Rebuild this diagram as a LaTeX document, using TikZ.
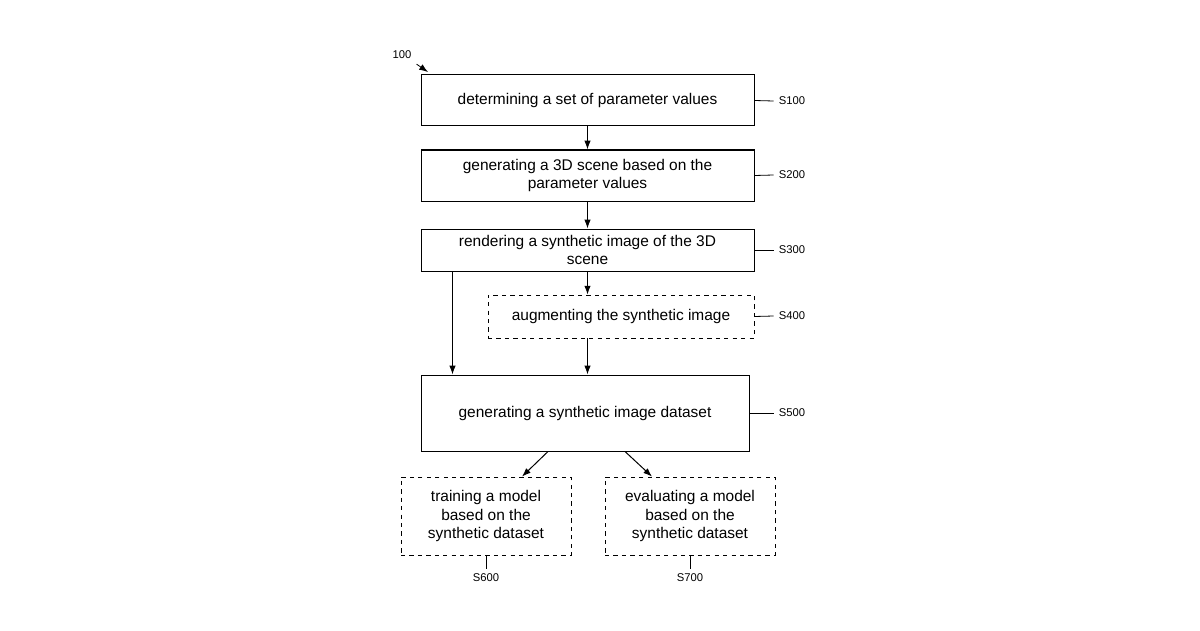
\documentclass[tikz,border=0pt]{standalone}
\usepackage{fontspec}
\setmainfont{Liberation Sans}
\usetikzlibrary{positioning,arrows.meta}
\begin{document}
\begin{tikzpicture}[x=0.025cm,y=-0.025cm,line width=0.25mm,
>={Latex[length=2.2mm,width=1.6mm]},
box/.style={draw, align=center, font=\fontsize{11}{13}\selectfont, inner sep=0pt},
optbox/.style={box, dashed, line width=0.2mm},
lbl/.style={font=\fontsize{8}{9}\selectfont}
]
\useasboundingbox (0,0) rectangle (1200,630);

 \node[box, minimum width=333*0.025cm, minimum height=51*0.025cm] (s1) at (587.5,100.5) {determining a set of parameter values};
 \node[box, minimum width=333*0.025cm, minimum height=51*0.025cm] (s2) at (587.5,175.5) {generating a 3D scene based on the\\parameter values};
 \node[box, minimum width=333*0.025cm, minimum height=42*0.025cm] (s3) at (587.5,250) {rendering a synthetic image of the 3D\\scene};
 \node[optbox, minimum width=266*0.025cm, minimum height=43*0.025cm] (s4) at (621,316.5) {augmenting the synthetic image};
 \node[box, minimum width=328*0.025cm, minimum height=76*0.025cm] (s5) at (585,413) {generating a synthetic image dataset};
 \node[optbox, minimum width=170*0.025cm, minimum height=78*0.025cm] (s6) at (486,516) {training a model\\based on the\\synthetic dataset};
 \node[optbox, minimum width=170*0.025cm, minimum height=78*0.025cm] (s7) at (690,516) {evaluating a model\\based on the\\synthetic dataset};

 % step labels
 \node[lbl] (l1) at (792,101) {S100};
 \node[lbl] (l2) at (792,175) {S200};
 \node[lbl] (l3) at (792,250) {S300};
 \node[lbl] (l4) at (792,316) {S400};
 \node[lbl] (l5) at (792,413) {S500};
 \node[lbl] (l6) at (486,578) {S600};
 \node[lbl] (l7) at (690,578) {S700};
 \node[lbl] (l0) at (402,55) {100};
 \coordinate (c0) at (428,72);

 \draw[line width=0.2mm] (s1.east) -- (l1.west);
 \draw[line width=0.2mm] (s2.east) -- (l2.west);
 \draw[line width=0.2mm] (s3.east) -- (l3.west);
 \draw[line width=0.2mm] (s4.east) -- (l4.west);
 \draw[line width=0.2mm] (s5.east) -- (l5.west);
 \draw[line width=0.2mm] (s6.south) -- (l6.north);
 \draw[line width=0.2mm] (s7.south) -- (l7.north);
 \draw[->, line width=0.2mm] (l0.south east) -- (c0);

 \draw[->] (s1) -- (s2);
 \draw[->] (s2) -- (s3);
 \draw[->] (s3.south) -- (s3.south |- s4.north);
 \draw[->] (s3.south |- s4.south) -- (s3.south |- s5.north);
 \draw[->] ([xshift=32*0.025cm]s3.south west) -- ([xshift=32*0.025cm]s3.south west |- s5.north);
 \draw[->] ([xshift=-37*0.025cm]s5.south) -- ([xshift=36*0.025cm]s6.north);
 \draw[->] ([xshift=40*0.025cm]s5.south) -- ([xshift=-38*0.025cm]s7.north);
\end{tikzpicture}
\end{document}
